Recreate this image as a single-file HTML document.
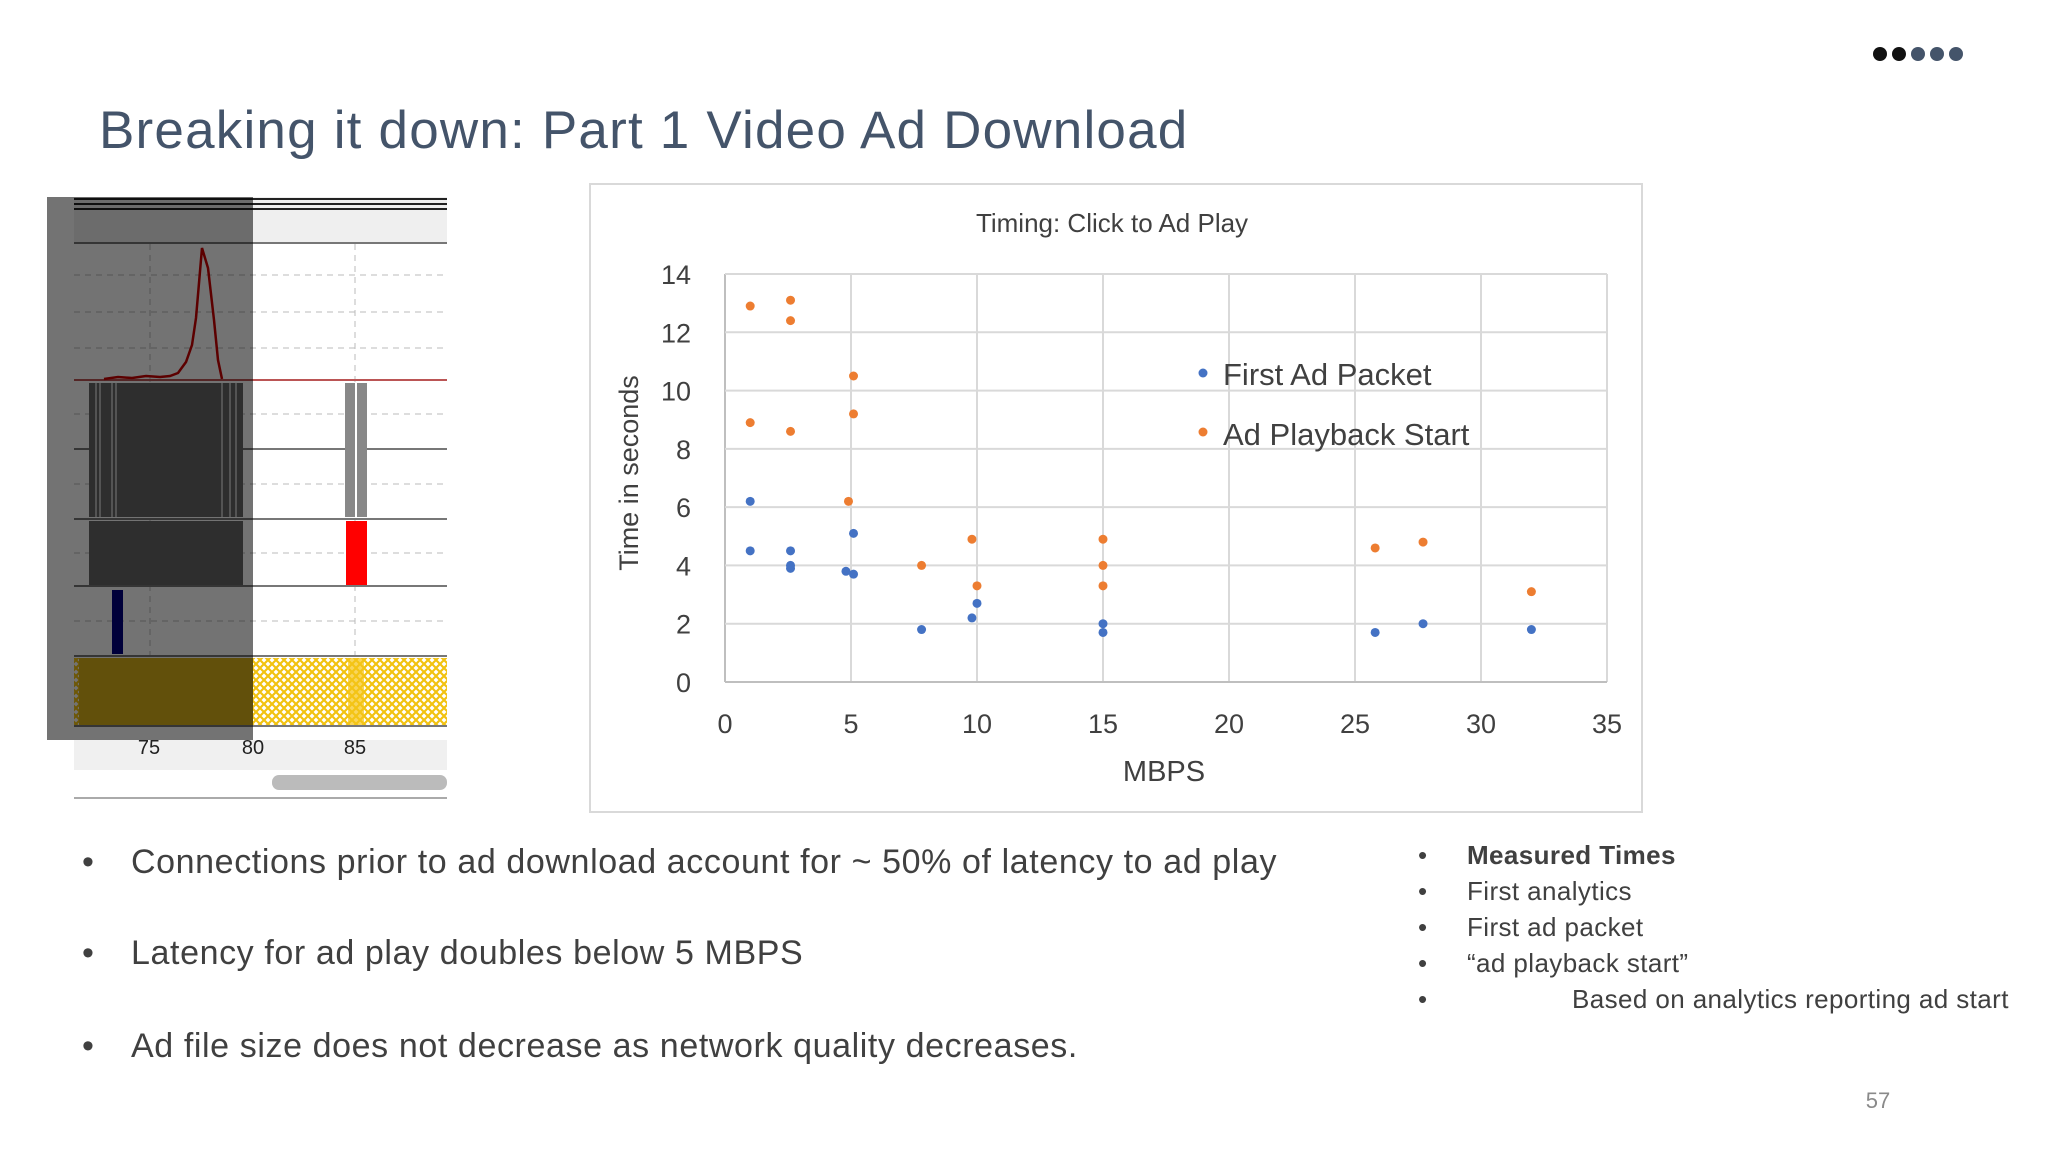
<!DOCTYPE html>
<html><head><meta charset="utf-8"><style>
html,body{margin:0;padding:0;background:#fff;}
svg{display:block;font-family:"Liberation Sans",sans-serif;}
</style></head><body>
<svg id="page" width="2048" height="1152" viewBox="0 0 2048 1152">
<defs>
<pattern id="hatch" width="8" height="8" patternUnits="userSpaceOnUse">
<rect width="8" height="8" fill="#fff"/>
<path d="M0 0L8 8M8 0L0 8" stroke="#f2c20f" stroke-width="2.2"/>
</pattern>
</defs>
<g>
<circle cx="1880" cy="54" r="7" fill="#111"/><circle cx="1899" cy="54" r="7" fill="#111"/>
<circle cx="1918" cy="54" r="7" fill="#44546a"/><circle cx="1937" cy="54" r="7" fill="#44546a"/><circle cx="1956" cy="54" r="7" fill="#44546a"/>
</g>
<text x="99" y="148" font-size="53" fill="#44546a" letter-spacing="1.2">Breaking it down: Part 1  Video Ad Download</text>

<g>
<rect x="74" y="197" width="373" height="47" fill="#efefef"/>
<line x1="74" y1="199" x2="447" y2="199" stroke="#222" stroke-width="2"/>
<line x1="74" y1="204" x2="447" y2="204" stroke="#222" stroke-width="2"/>
<line x1="74" y1="209" x2="447" y2="209" stroke="#222" stroke-width="2"/>
<g stroke="#bbb" stroke-dasharray="6,5" stroke-width="1">
<line x1="74" y1="275" x2="447" y2="275"/><line x1="74" y1="312" x2="447" y2="312"/><line x1="74" y1="348" x2="447" y2="348"/>
<line x1="74" y1="414" x2="447" y2="414"/><line x1="74" y1="484" x2="447" y2="484"/><line x1="74" y1="553" x2="447" y2="553"/><line x1="74" y1="621" x2="447" y2="621"/>
<line x1="150" y1="244" x2="150" y2="726"/><line x1="355" y1="244" x2="355" y2="726"/>
</g>
<g stroke="#777" stroke-width="2">
<line x1="74" y1="243" x2="447" y2="243"/><line x1="74" y1="449" x2="447" y2="449"/>
<line x1="74" y1="519" x2="447" y2="519"/><line x1="74" y1="586" x2="447" y2="586"/><line x1="74" y1="656" x2="447" y2="656"/>
<line x1="74" y1="726" x2="447" y2="726"/>
</g>
<line x1="74" y1="380" x2="447" y2="380" stroke="#b55" stroke-width="2"/>
<polyline fill="none" stroke="#c00" stroke-width="2.5" points="104,379 118,377 132,378 146,376 160,377 170,376 178,373 186,362 192,345 196,318 202,248 208,268 214,320 218,360 222,379"/>
<rect x="89" y="383" width="154" height="134" fill="#666"/>
<g stroke="#bbb" stroke-width="2">
<line x1="96" y1="383" x2="96" y2="517"/><line x1="100" y1="383" x2="100" y2="517"/><line x1="112" y1="383" x2="112" y2="517"/><line x1="116" y1="383" x2="116" y2="517"/>
<line x1="222" y1="383" x2="222" y2="517"/><line x1="230" y1="383" x2="230" y2="517"/><line x1="236" y1="383" x2="236" y2="517"/>
</g>
<rect x="89" y="521" width="154" height="64" fill="#666"/>
<rect x="345" y="383" width="22" height="134" fill="#888"/>
<line x1="356" y1="383" x2="356" y2="517" stroke="#fff" stroke-width="2"/>
<rect x="346" y="521" width="21" height="64" fill="#f00"/>
<rect x="112" y="590" width="11" height="64" fill="#000080"/>
<rect x="74" y="658" width="373" height="67" fill="url(#hatch)"/>
<rect x="79" y="658" width="174" height="67" fill="#d9b21a"/>
<rect x="348" y="658" width="16" height="67" fill="#f5c518" opacity="0.7"/>
<rect x="47" y="197" width="206" height="543" fill="rgba(0,0,0,0.55)"/>
<rect x="74" y="740" width="373" height="30" fill="#f0f0f0"/>
<text x="149" y="754" font-size="20" text-anchor="middle" fill="#222">75</text>
<text x="253" y="754" font-size="20" text-anchor="middle" fill="#222">80</text>
<text x="355" y="754" font-size="20" text-anchor="middle" fill="#222">85</text>
<rect x="272" y="775" width="175" height="15" rx="7" fill="#bbb"/>
<line x1="74" y1="798" x2="447" y2="798" stroke="#aaa" stroke-width="2"/>
</g>

<g id="chart">
<rect x="590" y="184" width="1052" height="628" fill="#fff" stroke="#d9d9d9" stroke-width="2"/>
<text x="1112" y="232" font-size="26" text-anchor="middle" fill="#404040">Timing: Click to Ad Play</text>
<g id="grid"></g><g id="ticks"></g>
<text x="1164" y="781" font-size="29" text-anchor="middle" fill="#404040">MBPS</text>
<text transform="translate(638,473) rotate(-90)" font-size="27" text-anchor="middle" fill="#404040">Time in seconds</text>
<g id="marks"></g>
<g>
<circle cx="1203" cy="373" r="4.5" fill="#4472c4"/>
<text x="1223" y="385" font-size="31" fill="#404040">First Ad Packet</text>
<circle cx="1203" cy="432" r="4.5" fill="#ed7d31"/>
<text x="1223" y="445" font-size="31" fill="#404040">Ad Playback Start</text>
</g>
</g>

<g font-size="34" fill="#404040" letter-spacing="0.6">
<text x="82" y="873">•</text><text x="131" y="873">Connections prior to ad download account for ~ 50% of latency to ad play</text>
<text x="82" y="964">•</text><text x="131" y="964">Latency for ad play doubles below 5 MBPS</text>
<text x="82" y="1057">•</text><text x="131" y="1057">Ad file size does not decrease as network quality decreases.</text>
</g>
<g font-size="26" fill="#404040" letter-spacing="0.4">
<text x="1418" y="864">•</text><text x="1467" y="864" font-weight="bold">Measured Times</text>
<text x="1418" y="900">•</text><text x="1467" y="900">First analytics</text>
<text x="1418" y="936">•</text><text x="1467" y="936">First ad packet</text>
<text x="1418" y="972">•</text><text x="1467" y="972">“ad playback start”</text>
<text x="1418" y="1008">•</text><text x="1572" y="1008">Based on analytics reporting ad start</text>
</g>
<text x="1878" y="1108" font-size="22" text-anchor="middle" fill="#8a8a8a">57</text>
</svg>
<script>
const xTicks=[0,5,10,15,20,25,30,35];
const yTicks=[0,2,4,6,8,10,12,14];
const firstX=[1,1,2.6,2.6,2.6,4.8,5.1,5.1,7.8,9.8,10,15,15,25.8,27.7,32];
const firstY=[6.2,4.5,4.5,4.0,3.9,3.8,3.7,5.1,1.8,2.2,2.7,2.0,1.7,1.7,2.0,1.8];
const playX=[1,1,2.6,2.6,2.6,5.1,5.1,4.9,7.8,9.8,10,15,15,15,25.8,27.7,32];
const playY=[12.9,8.9,13.1,12.4,8.6,10.5,9.2,6.2,4.0,4.9,3.3,4.9,4.0,3.3,4.6,4.8,3.1];
const NS="http://www.w3.org/2000/svg";
const L=725,R=1607,T=274,B=682;
const sx=v=>L+(v-0)/(35-0)*(R-L);
const sy=v=>B-(v-0)/(14-0)*(B-T);
const grid=document.getElementById('grid'),ticks=document.getElementById('ticks'),marks=document.getElementById('marks');
function mk(tag,a,p){const e=document.createElementNS(NS,tag);for(const k in a)e.setAttribute(k,a[k]);p.appendChild(e);return e;}
xTicks.forEach(v=>{
 const g=mk('line',{x1:sx(v),x2:sx(v),y1:T,y2:B,stroke:v===0?'#bfbfbf':'#d9d9d9','stroke-width':2},grid);
 
 
 const t=mk('text',{x:sx(v),y:733,'font-size':27,'text-anchor':'middle',fill:'#404040'},ticks);t.textContent=v;
 
 
});
yTicks.forEach(v=>{
 const g=mk('line',{x1:L,x2:R,y1:sy(v),y2:sy(v),stroke:v===0?'#bfbfbf':'#d9d9d9','stroke-width':2},grid);
 
 
 const t=mk('text',{x:691,y:sy(v)+10,'font-size':27,'text-anchor':'end',fill:'#404040'},ticks);t.textContent=v;
 
 
});
firstX.forEach((x,i)=>{const c=mk('circle',{cx:sx(x),cy:sy(firstY[i]),r:4.5,fill:'#4472c4'},marks);
 
 });
playX.forEach((x,i)=>{const c=mk('circle',{cx:sx(x),cy:sy(playY[i]),r:4.5,fill:'#ed7d31'},marks);
 
 });
</script>
</body></html>
